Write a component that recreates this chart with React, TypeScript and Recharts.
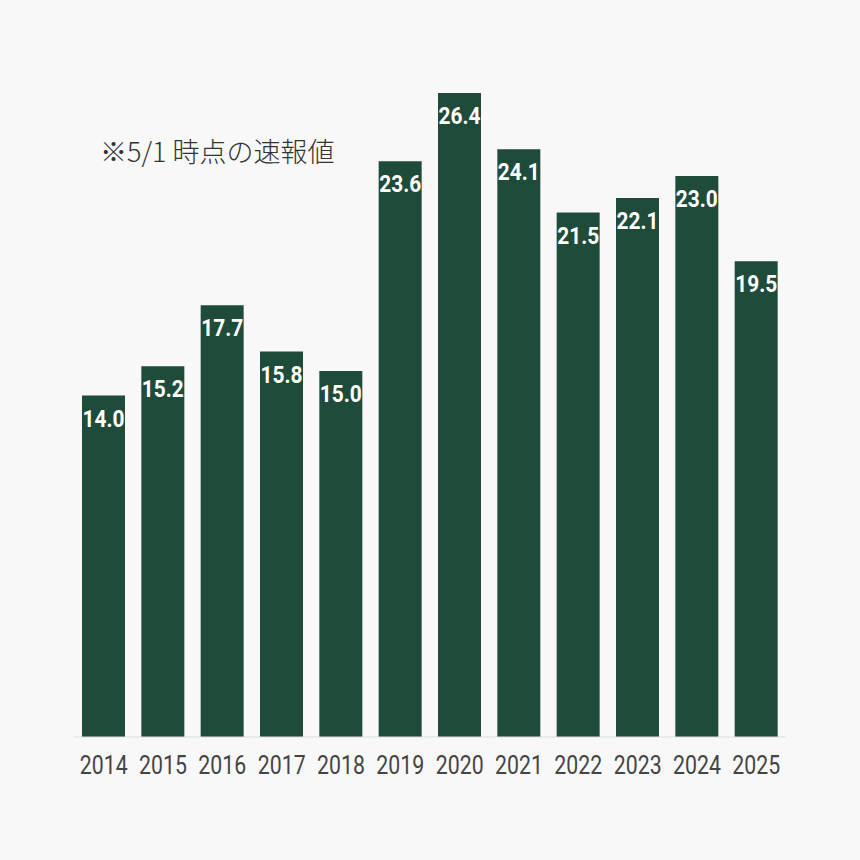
import React from 'react';
import { BarChart, Bar, XAxis, YAxis, LabelList } from 'recharts';

const years = ['2014', '2015', '2016', '2017', '2018', '2019', '2020', '2021', '2022', '2023', '2024', '2025'];
const values = [14.0, 15.2, 17.7, 15.8, 15.0, 23.6, 26.4, 24.1, 21.5, 22.1, 23.0, 19.5];

const data = years.map((year, i) => ({ year, value: values[i] }));

// no condensed font installed, so squeeze Roboto horizontally
const YearTick = (props: any) => {
    const { x, y, payload } = props;
    return (
        <g transform={`translate(${x},${y}) scale(0.82,1)`}>
            <text x={0} y={0} dy={31} textAnchor="middle" fontSize={26} fill="#444444" fontFamily="Roboto, sans-serif">
                {payload.value}
            </text>
        </g>
    );
};

const ValueLabel = (props: any) => {
    const { x, y, width, value } = props;
    const cx = Number(x) + Number(width) / 2;
    return (
        <g transform={`translate(${cx},${Number(y) + 31}) scale(0.87,1)`}>
            <text x={0} y={0} textAnchor="middle" fontSize={24} fontWeight="bold" fill="#ffffff" fontFamily="Roboto, sans-serif">
                {Number(value).toFixed(1)}
            </text>
        </g>
    );
};

const App: React.FC = () => {
    return (
        <div
            style={{
                position: 'fixed',
                left: 0,
                top: 0,
                width: 860,
                height: 860,
                background: '#f8f8f8',
            }}
        >
            <BarChart
                width={860}
                height={860}
                data={data}
                margin={{ top: 54, right: 74, left: 74, bottom: 73 }}
            >
                <XAxis
                    dataKey="year"
                    tickLine={false}
                    axisLine={{ stroke: '#dddddd' }}
                    tickMargin={0}
                    height={50}
                    interval={0}
                    tick={<YearTick />}
                />
                <YAxis hide domain={[0, 28]} />
                <Bar dataKey="value" fill="#1f4b3a" barSize={43} isAnimationActive={false}>
                    <LabelList dataKey="value" content={<ValueLabel />} />
                </Bar>
            </BarChart>
            <div
                style={{
                    position: 'absolute',
                    left: 100,
                    top: 137,
                    fontSize: 27,
                    fontWeight: 300,
                    color: '#333333',
                    fontFamily: '"Noto Sans CJK JP", sans-serif',
                    lineHeight: 1,
                    whiteSpace: 'nowrap',
                }}
            >
                ※5/1 時点の速報値
            </div>
        </div>
    );
};

export default App;
